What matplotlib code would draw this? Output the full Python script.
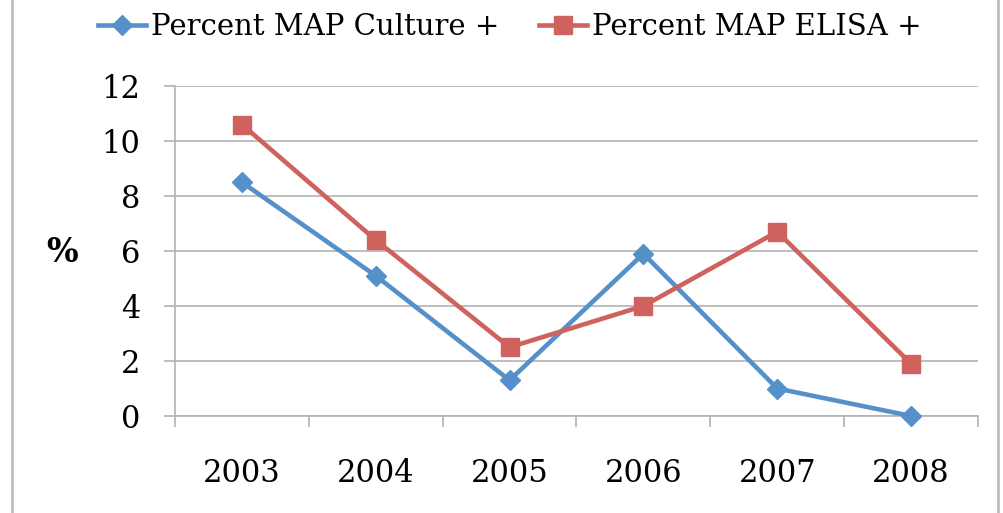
import numpy as np
import matplotlib.pyplot as plt
from matplotlib.lines import Line2D

# data
years = ['2003', '2004', '2005', '2006', '2007', '2008']
culture = [8.5, 5.1, 1.3, 5.9, 1.0, 0.0]
elisa = [10.6, 6.4, 2.5, 4.0, 6.7, 1.9]
yticks = [0, 2, 4, 6, 8, 10, 12]

blue = '#5590CB'
red = '#CF625D'
grid_col = '#B3B3B3'

plt.rcParams['font.family'] = ['DejaVu Serif']

fig = plt.figure(figsize=(10.04, 5.13), dpi=100)
ax = fig.add_axes([175 / 1004, 1 - 416 / 513, (978 - 175) / 1004, (416 - 86) / 513])

x = np.arange(len(years))
ax.plot(x, culture, color=blue, lw=3.3, marker='D', ms=10.5, label='Percent MAP Culture +',
        zorder=3, clip_on=False)
ax.plot(x, elisa, color=red, lw=3.3, marker='s', ms=12.5, label='Percent MAP ELISA +',
        zorder=3, clip_on=False)

ax.set_xlim(-0.5, len(years) - 0.5)
ax.set_ylim(0, 12)
ax.set_yticks(yticks)
ax.set_xticks(x)
ax.set_xticklabels(years)
ax.set_xticks(np.arange(-0.5, len(years)), minor=True)

ax.tick_params(axis='x', which='major', length=0, pad=30, labelsize=22)
ax.tick_params(axis='x', which='minor', length=8, width=1.2, color=grid_col, direction='out')
ax.tick_params(axis='y', which='major', length=8, width=1.2, color=grid_col, direction='out',
               pad=17, labelsize=22)

ax.grid(axis='y', color=grid_col, lw=1.2)
ax.set_axisbelow(True)
for s in ['top', 'right']:
    ax.spines[s].set_visible(False)
for s in ['left', 'bottom']:
    ax.spines[s].set_color(grid_col)
    ax.spines[s].set_linewidth(1.2)

fig.text(62 / 1004, 1 - 252 / 513, '%', fontsize=24, fontweight='bold', ha='center', va='center')

ax.legend(loc='center', bbox_to_anchor=(510 / 1004, 1 - 27 / 513), bbox_transform=fig.transFigure,
          ncol=2, frameon=False, fontsize=21, handlelength=1.65, handletextpad=0.17,
          columnspacing=1.35, borderpad=0)

# outer chart frame
fig.add_artist(Line2D([12 / 1004, 12 / 1004], [0, 1], color='#BFBFBF', lw=2))
fig.add_artist(Line2D([998 / 1004, 998 / 1004], [0, 1], color='#BFBFBF', lw=2))

fig.savefig('out.png', dpi=100)
